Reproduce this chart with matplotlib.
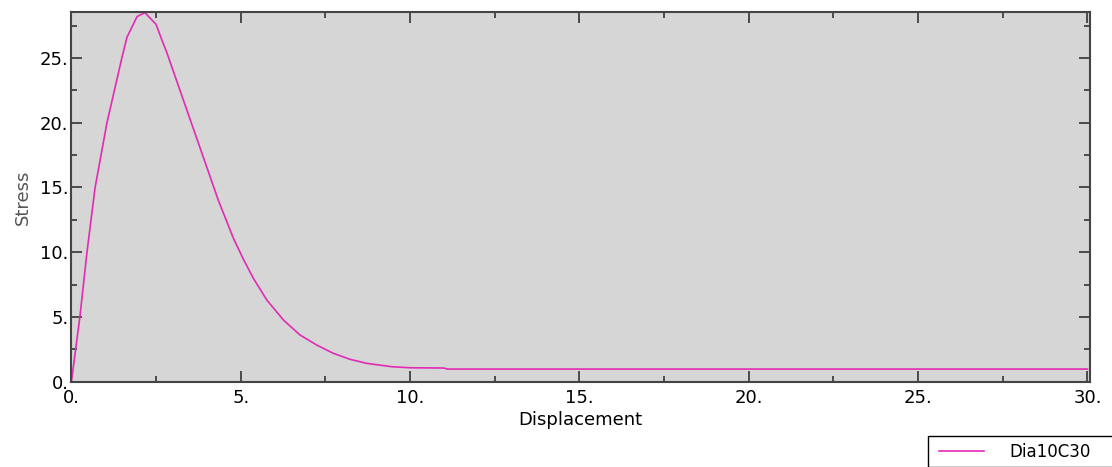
import numpy as np
import matplotlib.pyplot as plt
from matplotlib.ticker import MultipleLocator, FormatStrFormatter
from matplotlib.patches import Rectangle

# ── data ──────────────────────────────────────────────────────────
displacement = [0.0, 0.1, 0.25, 0.46, 0.70, 1.05, 1.49, 1.64, 1.94, 2.17,
                2.50, 2.67, 2.82, 3.20, 3.60, 4.00, 4.34, 4.78, 5.08,
                5.37, 5.77, 6.26, 6.75, 7.24, 7.73, 8.23, 8.72, 9.46, 10.0,
                11.0, 11.1, 30.0]
stress = [0.0, 2.0, 5.0, 10.0, 15.0, 20.0, 25.0, 26.6, 28.2, 28.5,
          27.6, 26.4, 25.4, 22.55, 19.55, 16.55, 14.0, 11.1, 9.45,
          8.0, 6.31, 4.77, 3.61, 2.84, 2.20, 1.73, 1.42, 1.16, 1.08,
          1.06, 0.98, 0.98]
series_name = "Dia10C30"

W, H = 1112, 467
fig = plt.figure(figsize=(W / 100, H / 100), dpi=100)
ax = fig.add_axes([71.4 / W, 1 - 381.75 / H, (1089.5 - 71.4) / W, (381.75 - 12) / H])
ax.set_facecolor("#d6d6d6")

ax.plot(displacement, stress, color="#e22ab4", lw=1.2, label=series_name)

ax.set_xlim(0, 30.06)
ax.set_ylim(0, 28.55)
ax.xaxis.set_major_locator(MultipleLocator(5))
ax.xaxis.set_minor_locator(MultipleLocator(2.5))
ax.yaxis.set_major_locator(MultipleLocator(5))
ax.yaxis.set_minor_locator(MultipleLocator(2.5))
ax.xaxis.set_major_formatter(FormatStrFormatter("%d."))
ax.yaxis.set_major_formatter(FormatStrFormatter("%d."))

ax.tick_params(which="both", direction="in", top=True, right=True,
               colors="#333333", labelcolor="black", labelsize=13, width=1.2)
ax.tick_params(which="major", length=8)
ax.tick_params(which="minor", length=4)
ax.tick_params(axis="x", which="major", pad=5)
ax.tick_params(axis="y", which="major", pad=2)
for sp in ax.spines.values():
    sp.set_color("#444444")
    sp.set_linewidth(1.5)

ax.set_xlabel("Displacement", fontsize=13, labelpad=3)
ax.set_ylabel("Stress", fontsize=13, color="#555555", labelpad=6)

# legend box, running off the bottom-right edge like the reference
fig.patches.append(Rectangle((928 / W, 0), 200 / W, 1 - 436 / H,
                             transform=fig.transFigure, facecolor="white",
                             edgecolor="black", lw=1.0))
fig.legend(loc="center left", bbox_to_anchor=(939 / W, 1 - 452 / H),
           frameon=False, fontsize=12, handlelength=2.7,
           handletextpad=1.5, borderpad=0, borderaxespad=0)

fig.savefig("out.png", dpi=100, facecolor="white")
